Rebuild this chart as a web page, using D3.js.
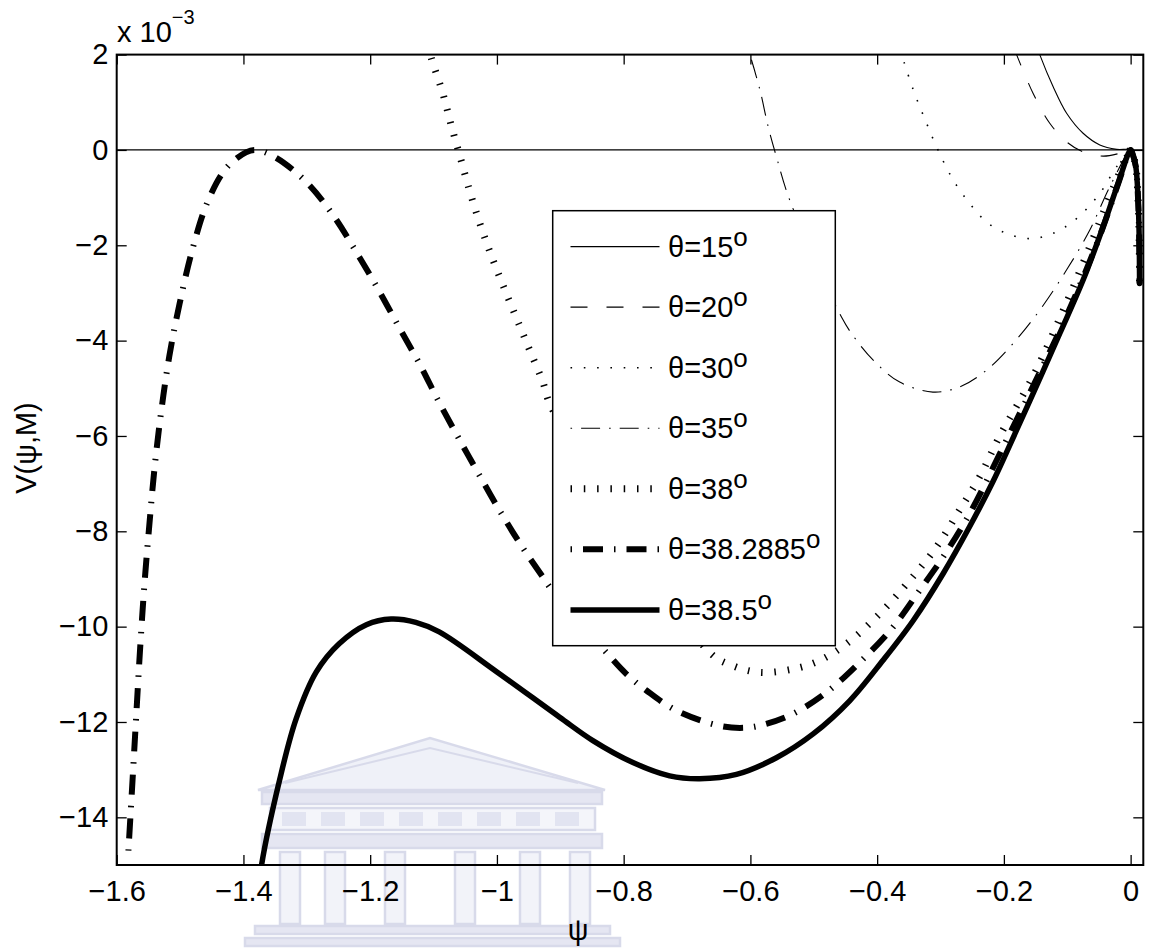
<!DOCTYPE html>
<html>
<head>
<meta charset="utf-8">
<script src="https://cdn.jsdelivr.net/npm/d3@7"></script>
<style>
  body { margin: 0; background: #fff; }
  text { font-family: "Liberation Sans", Arial, Helvetica, sans-serif; fill: #000; }
</style>
</head>
<body>
<script>
// tick values
var xTicks = [-1.6, -1.4, -1.2, -1, -0.8, -0.6, -0.4, -0.2, 0];
var yTicks = [-14, -12, -10, -8, -6, -4, -2, 0, 2];

// common steep drop right of psi = 0 (units 1e-3)
var tail = [[0.003, -0.08], [0.0082, -0.35], [0.0118, -1.05], [0.0134, -1.75], [0.0141, -2.8]];

// V(psi) curves, V in units of 1e-3
var theta15 = [[-0.146, 2.1], [-0.1434, 2.0], [-0.1224, 1.33], [-0.101, 0.77], [-0.075, 0.35],
  [-0.0486, 0.105], [-0.022, 0.012], [0, 0]];
var theta20 = [[-0.183, 2.1], [-0.180, 2.0], [-0.154, 1.19], [-0.1276, 0.56], [-0.101, 0.17],
  [-0.075, -0.04], [-0.0434, -0.13], [-0.017, -0.07], [0, 0]];
var theta30 = [[-0.365, 2.1], [-0.3617, 2.0], [-0.343, 1.26], [-0.322, 0.56], [-0.304, 0],
  [-0.280, -0.63], [-0.254, -1.12], [-0.2275, -1.51], [-0.196, -1.75], [-0.159, -1.86],
  [-0.1224, -1.75], [-0.0854, -1.44], [-0.0486, -0.91], [-0.022, -0.35], [0, 0]];
var theta35 = [[-0.604, 2.1], [-0.601, 2.0], [-0.585, 1.26], [-0.572, 0.49], [-0.559, -0.14],
  [-0.538, -1.05], [-0.4565, -3.50], [-0.4328, -3.99], [-0.401, -4.48], [-0.3644, -4.87],
  [-0.312, -5.08], [-0.2697, -4.97], [-0.2275, -4.62], [-0.1855, -4.06], [-0.1434, -3.36],
  [-0.1012, -2.52], [-0.0644, -1.68], [-0.0328, -0.77], [0, 0]];
var theta38 = [[-1.108, 2.2], [-1.104, 1.95], [-1.0854, 1.19], [-1.072, 0.51], [-1.059, -0.10],
  [-1.043, -0.86], [-1.027, -1.54], [-1.011, -2.14], [-0.991, -2.82], [-0.970, -3.50],
  [-0.9486, -4.19], [-0.9275, -4.87], [-0.914, -5.4], [-0.6644, -10.54], [-0.6276, -10.82],
  [-0.5854, -10.96], [-0.533, -10.89], [-0.4907, -10.71], [-0.4485, -10.36], [-0.396, -9.73],
  [-0.3486, -9.03], [-0.3064, -8.33], [-0.2697, -7.55], [-0.238, -6.85], [-0.2065, -6.0],
  [-0.154, -4.75], [-0.101, -3.2], [-0.059, -1.85], [-0.0276, -0.8], [0, 0]];
var theta382885 = [[-1.5815, -14.70], [-1.575, -13.22], [-1.5695, -11.94], [-1.563, -10.45],
  [-1.556, -9.07], [-1.548, -7.79], [-1.5405, -6.70], [-1.530, -5.51], [-1.517, -4.33],
  [-1.501, -3.24], [-1.480, -2.06], [-1.456, -1.07], [-1.427, -0.38], [-1.396, -0.05],
  [-1.380, 0], [-1.349, -0.16], [-1.301, -0.67], [-1.259, -1.36], [-1.217, -2.25],
  [-1.185, -2.98], [-1.154, -3.73], [-1.122, -4.49], [-1.091, -5.3], [-1.059, -6.08],
  [-1.027, -6.84], [-0.991, -7.67], [-0.959, -8.35], [-0.9275, -8.96], [-0.914, -9.22],
  [-0.8275, -10.54], [-0.796, -10.99], [-0.764, -11.34], [-0.717, -11.76], [-0.6486, -12.08],
  [-0.6064, -12.12], [-0.575, -12.04], [-0.533, -11.83], [-0.480, -11.38], [-0.4275, -10.75],
  [-0.375, -10.01], [-0.333, -9.24], [-0.296, -8.54], [-0.254, -7.63], [-0.2, -6.2],
  [-0.15, -4.85], [-0.1, -3.45], [-0.05, -1.85], [-0.02, -0.72], [0, 0]];
var theta385 = [[-1.374, -15.3], [-1.372, -15.05], [-1.343, -13.22], [-1.317, -11.94],
  [-1.285, -10.95], [-1.249, -10.36], [-1.206, -9.96], [-1.167, -9.84], [-1.128, -9.91],
  [-1.091, -10.11], [-1.0, -10.95], [-0.901, -11.90], [-0.8486, -12.39], [-0.7854, -12.85],
  [-0.7275, -13.13], [-0.680, -13.19], [-0.622, -13.10], [-0.559, -12.75], [-0.501, -12.25],
  [-0.443, -11.55], [-0.391, -10.71], [-0.343, -9.87], [-0.296, -8.89], [-0.254, -7.9],
  [-0.217, -6.95], [-0.196, -6.35], [-0.154, -5.11], [-0.1118, -3.85], [-0.075, -2.73],
  [-0.0434, -1.61], [-0.0197, -0.70], [0, 0]];

var labels = ["15", "20", "30", "35", "38", "38.2885", "38.5"];
var curves = [theta15, theta20, theta30, theta35, theta38, theta382885, theta385];
var styles = [
  {w: 1.1, dash: null, cap: "butt"},
  {w: 1.1, dash: "17,19", cap: "butt"},
  {w: 1.6, dash: "1.6,11.7", cap: "butt"},
  {w: 1.1, dash: "1.6,9,19,9", cap: "butt"},
  {w: 7, dash: "1.5,11.8", cap: "butt"},
  {w: 6, dash: "1.5,11,20,11", cap: "butt"},
  {w: 5.5, dash: null, cap: "round"}
];

drawChart();

function drawChart() {
  var W = 1157, H = 950;
  var mLeft = 116.7, mRight = 1143.3, mTop = 54.6, mBottom = 865;
  var font = 29;

  var svg = d3.select("body").append("svg")
      .attr("width", W)
      .attr("height", H);

  svg.append("rect").attr("width", W).attr("height", H).attr("fill", "#fff");

  // faint watermark building behind the plot
  var wm = svg.append("g").attr("fill", "none").attr("stroke", "#cfd2e6").attr("stroke-width", 2.5).attr("opacity", 0.8);
  wm.append("path").attr("d", "M258,790 L430,738 L605,790 Z").attr("fill", "#eceef7");
  wm.append("path").attr("d", "M285,783 L430,748 L578,783").attr("stroke-width", 2);
  wm.append("rect").attr("x", 262).attr("y", 792).attr("width", 340).attr("height", 12).attr("fill", "#dfe1ef");
  wm.append("rect").attr("x", 270).attr("y", 808).attr("width", 325).attr("height", 22).attr("fill", "#f2f3f9");
  d3.range(8).forEach(function(i) {
    wm.append("rect").attr("x", 282 + i * 39).attr("y", 812).attr("width", 24).attr("height", 14)
      .attr("fill", "#dcdeee").attr("stroke", "none");
  });
  wm.append("rect").attr("x", 262).attr("y", 834).attr("width", 340).attr("height", 14).attr("fill", "#dfe1ef");
  [290, 335, 395, 465, 530, 580].forEach(function(cx) {
    wm.append("rect").attr("x", cx - 10).attr("y", 852).attr("width", 20).attr("height", 72).attr("fill", "#f0f1f8");
  });
  wm.append("rect").attr("x", 255).attr("y", 926).attr("width", 355).attr("height", 8).attr("fill", "#dfe1ef");
  wm.append("rect").attr("x", 245).attr("y", 938).attr("width", 375).attr("height", 8).attr("fill", "#dfe1ef");

  var x = d3.scaleLinear().domain([-1.6, 0.02]).range([mLeft, mRight]);
  var y = d3.scaleLinear().domain([-15, 2]).range([mBottom, mTop]);
  var fmt = d3.format("~g");

  svg.append("defs").append("clipPath").attr("id", "plotclip")
    .append("rect").attr("x", mLeft).attr("y", mTop).attr("width", mRight - mLeft).attr("height", mBottom - mTop);

  // axes with inward ticks
  var gx = svg.append("g").attr("transform", "translate(0," + mBottom + ")")
    .call(d3.axisBottom(x).tickValues(xTicks).tickFormat(fmt).tickSizeInner(-10).tickSizeOuter(0).tickPadding(15));
  var gy = svg.append("g").attr("transform", "translate(" + mLeft + ",0)")
    .call(d3.axisLeft(y).tickValues(yTicks).tickFormat(fmt).tickSizeInner(-10).tickSizeOuter(0).tickPadding(8.4));
  var gt = svg.append("g").attr("transform", "translate(0," + mTop + ")")
    .call(d3.axisTop(x).tickValues(xTicks).tickFormat("").tickSizeInner(-10).tickSizeOuter(0));
  var gr = svg.append("g").attr("transform", "translate(" + mRight + ",0)")
    .call(d3.axisRight(y).tickValues(yTicks).tickFormat("").tickSizeInner(-10).tickSizeOuter(0));

  [gx, gy, gt, gr].forEach(function(g) {
    g.select(".domain").remove();
    g.selectAll(".tick line").attr("stroke", "#000").attr("stroke-width", 1.3);
    g.selectAll(".tick text").style("font-size", font + "px").attr("fill", "#000")
      .style("font-family", "'Liberation Sans', Arial, Helvetica, sans-serif");
  });

  // zero line
  svg.append("line")
    .attr("x1", x(-1.6)).attr("x2", x(0.02))
    .attr("y1", y(0)).attr("y2", y(0))
    .attr("stroke", "#000").attr("stroke-width", 1.2);

  var line = d3.line()
    .x(function(d) { return x(d[0]); })
    .y(function(d) { return y(d[1]); })
    .curve(d3.curveCatmullRom.alpha(0.5));

  var plot = svg.append("g").attr("clip-path", "url(#plotclip)");
  curves.forEach(function(c, i) {
    var s = styles[i];
    plot.append("path")
      .datum(c.concat(tail))
      .attr("d", line)
      .attr("fill", "none")
      .attr("stroke", "#000")
      .attr("stroke-width", s.w)
      .attr("stroke-linecap", s.cap)
      .attr("stroke-linejoin", "round")
      .attr("stroke-dasharray", s.dash);
  });

  // axes box
  svg.append("rect")
    .attr("x", mLeft).attr("y", mTop)
    .attr("width", mRight - mLeft).attr("height", mBottom - mTop)
    .attr("fill", "none").attr("stroke", "#000").attr("stroke-width", 2);

  // exponent label
  var ex = svg.append("text").attr("x", 117).attr("y", 42).style("font-size", font + "px");
  ex.append("tspan").text("x 10");
  ex.append("tspan").attr("dy", -18).style("font-size", "20px").text("\u22123");

  // axis labels
  svg.append("text")
    .attr("transform", "translate(36,448) rotate(-90)")
    .attr("text-anchor", "middle")
    .style("font-size", font + "px")
    .text("V(\u03c8,M)");

  svg.append("text")
    .attr("x", 578).attr("y", 940)
    .attr("text-anchor", "middle")
    .style("font-size", font + "px")
    .text("\u03c8");

  // legend
  var lg = svg.append("g");
  lg.append("rect")
    .attr("x", 552.7).attr("y", 210.7)
    .attr("width", 835.3 - 552.7).attr("height", 645.7 - 210.7)
    .attr("fill", "#fff").attr("stroke", "#000").attr("stroke-width", 1.5);

  labels.forEach(function(lab, i) {
    var ly = 246.6 + i * 60.55;
    var s = styles[i];
    lg.append("line")
      .attr("x1", 570.5).attr("x2", 659.5)
      .attr("y1", ly).attr("y2", ly)
      .attr("stroke", "#000")
      .attr("stroke-width", s.w)
      .attr("stroke-linecap", "butt")
      .attr("stroke-dasharray", s.dash);
    var t = lg.append("text").attr("x", 668).attr("y", ly + 10).style("font-size", font + "px");
    t.append("tspan").text("\u03b8=" + lab);
    t.append("tspan").attr("dy", -11).style("font-size", "26px").text("o");
  });
}
</script>
</body>
</html>
